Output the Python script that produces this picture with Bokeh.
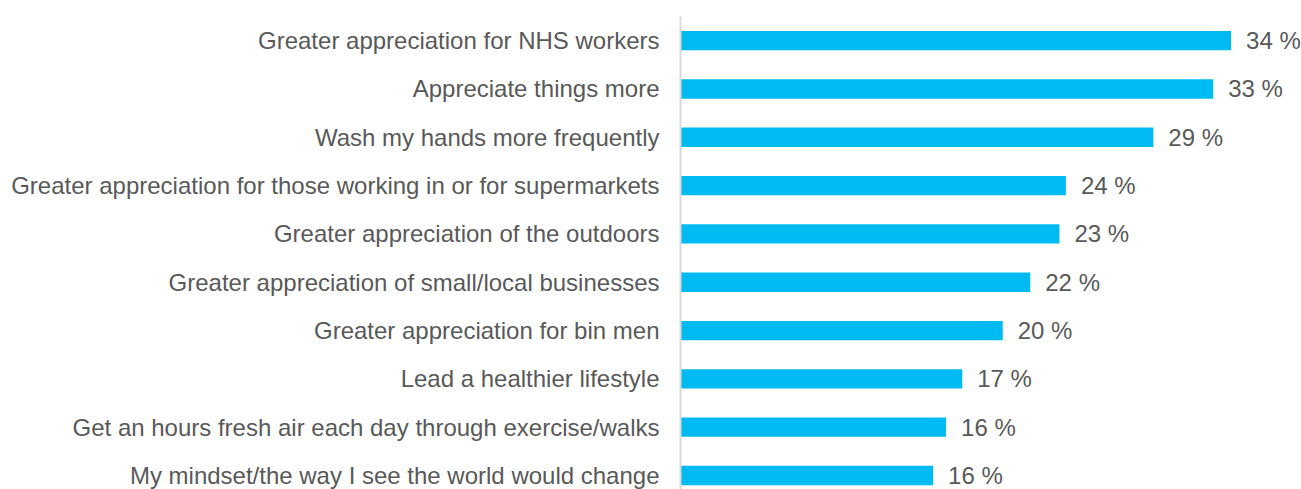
from bokeh.plotting import figure
from bokeh.models import ColumnDataSource, Range1d, FixedTicker
from bokeh.core.properties import value
from bokeh.embed import file_html
from bokeh.resources import INLINE

categories = [
    "Greater appreciation for NHS workers",
    "Appreciate things more",
    "Wash my hands more frequently",
    "Greater appreciation for those working in or for supermarkets",
    "Greater appreciation of the outdoors",
    "Greater appreciation of small/local businesses",
    "Greater appreciation for bin men",
    "Lead a healthier lifestyle",
    "Get an hours fresh air each day through exercise/walks",
    "My mindset/the way I see the world would change",
]
values = [34.0, 32.9, 29.2, 23.8, 23.4, 21.6, 19.9, 17.4, 16.4, 15.6]
value_labels = ["34 %", "33 %", "29 %", "24 %", "23 %", "22 %", "20 %", "17 %", "16 %", "16 %"]

FONT = "Liberation Sans"
TEXT_COLOR = "#595959"
BAR_COLOR = "#00BBF1"

idx = list(range(len(categories)))
src = ColumnDataSource(dict(y=idx, v=values, lab=value_labels))

p = figure(
    width=1301, height=489,
    x_range=Range1d(0, 38.35),
    y_range=Range1d(9.29, -0.50),
    output_backend="svg", toolbar_location=None,
    min_border_left=680, min_border_right=0,
    min_border_top=16, min_border_bottom=0,
    x_axis_location=None,
)
p.outline_line_color = None
p.grid.grid_line_color = None
p.background_fill_color = "white"
p.border_fill_color = "white"

p.hbar(y="y", right="v", left=0, height=0.40, source=src,
       fill_color=BAR_COLOR, line_color=None)

p.text(x="v", y="y", text="lab", source=src, x_offset=15,
       text_align="left", text_baseline="middle",
       text_font=value(FONT), text_font_size="24px", text_color=TEXT_COLOR)

ax = p.yaxis[0]
ax.ticker = FixedTicker(ticks=idx)
ax.major_label_overrides = {i: c for i, c in zip(idx, categories)}
ax.major_tick_line_color = None
ax.minor_tick_line_color = None
ax.major_tick_out = 0
ax.major_tick_in = 0
ax.axis_line_color = "#D9D9D9"
ax.axis_line_width = 2
ax.major_label_standoff = 21
ax.major_label_text_font = FONT
ax.major_label_text_font_size = "24px"
ax.major_label_text_color = TEXT_COLOR

open("out.html", "w").write(file_html(p, INLINE))
